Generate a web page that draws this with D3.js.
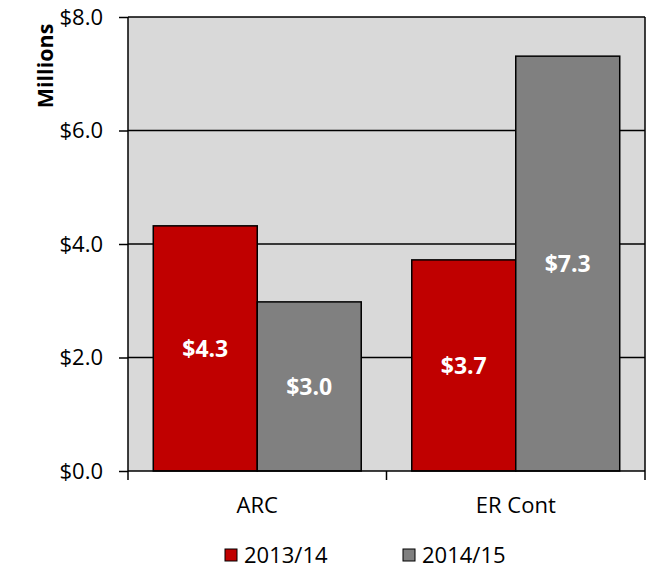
<!DOCTYPE html>
<html>
<head>
<meta charset="utf-8">
<script src="https://cdn.jsdelivr.net/npm/d3@7"></script>
<style>
  body { margin: 0; background: #fff; }
  text { font-family: "Open Sans", "Liberation Sans", sans-serif; }
</style>
</head>
<body>
<script>
// chart data
var categories = ["ARC", "ER Cont"];
var seriesNames = ["2013/14", "2014/15"];
var values2013 = [4.32, 3.72];
var values2014 = [2.98, 7.31];
var yTicks = [0, 2, 4, 6, 8];
var colors = ["#C00000", "#808080"];

var margin = {top: 17, right: 5, bottom: 100, left: 128},
    width = 650 - margin.left - margin.right,
    height = 571 - margin.top - margin.bottom;

var svg = d3.select("body").append("svg")
    .attr("width", 650)
    .attr("height", 571)
  .append("g")
    .attr("transform", "translate(" + margin.left + "," + margin.top + ")");

var x0 = d3.scaleBand().domain(categories).range([0, width]).padding(0);
var x1 = d3.scaleBand().domain(seriesNames).range([0, x0.bandwidth()])
    .paddingInner(0).paddingOuter(0.243);
var y = d3.scaleLinear().domain([0, 8]).range([height, 0]);

var data = categories.map(function(c, i) {
  return {cat: c, vals: [
    {s: seriesNames[0], v: values2013[i], c: colors[0]},
    {s: seriesNames[1], v: values2014[i], c: colors[1]}
  ]};
});

// plot background
svg.append("rect")
    .attr("width", width).attr("height", height)
    .attr("fill", "#D9D9D9");

// gridlines
svg.append("g").selectAll("line")
    .data(yTicks.slice(1))
  .enter().append("line")
    .attr("x1", 0).attr("x2", width)
    .attr("y1", function(d) { return y(d); })
    .attr("y2", function(d) { return y(d); })
    .attr("stroke", "#000").attr("stroke-width", 1.5);

// right border
svg.append("line")
    .attr("x1", width).attr("x2", width)
    .attr("y1", 0).attr("y2", height)
    .attr("stroke", "#000").attr("stroke-width", 1.5);

// bars
var groups = svg.selectAll(".grp")
    .data(data)
  .enter().append("g")
    .attr("transform", function(d) { return "translate(" + x0(d.cat) + ",0)"; });

groups.selectAll("rect")
    .data(function(d) { return d.vals; })
  .enter().append("rect")
    .attr("x", function(d) { return x1(d.s); })
    .attr("y", function(d) { return y(d.v); })
    .attr("width", x1.bandwidth())
    .attr("height", function(d) { return height - y(d.v); })
    .attr("fill", function(d) { return d.c; })
    .attr("stroke", "#000").attr("stroke-width", 1.5);

groups.selectAll("text")
    .data(function(d) { return d.vals; })
  .enter().append("text")
    .attr("x", function(d) { return x1(d.s) + x1.bandwidth() / 2; })
    .attr("y", function(d) { return (y(d.v) + height) / 2; })
    .attr("dy", "0.36em")
    .attr("text-anchor", "middle")
    .attr("fill", "#fff")
    .attr("font-weight", "bold")
    .attr("font-size", "23px")
    .text(function(d) { return "$" + d.v.toFixed(1); });

// y axis
var yAxis = svg.append("g")
    .call(d3.axisLeft(y).tickValues(yTicks).tickSize(9).tickPadding(16)
      .tickFormat(function(d) { return "$" + d3.format(".1f")(d); }));
yAxis.select(".domain").attr("stroke-width", 1.5).attr("d", "M0," + height + "V0");
yAxis.selectAll(".tick line").attr("stroke-width", 1.5);
yAxis.selectAll("text").attr("font-size", "22px").attr("fill", "#000");

// x axis
var xAxis = svg.append("g")
    .attr("transform", "translate(0," + height + ")")
    .call(d3.axisBottom(x0).tickSize(0).tickPadding(26));
xAxis.select(".domain").attr("stroke-width", 1.5).attr("d", "M0,0H" + width);
xAxis.selectAll("text").attr("font-size", "22px").attr("fill", "#000");
xAxis.selectAll(".sep")
    .data([0, x0.step(), width])
  .enter().append("line")
    .attr("x1", function(d) { return d; }).attr("x2", function(d) { return d; })
    .attr("y1", 0).attr("y2", 9)
    .attr("stroke", "#000").attr("stroke-width", 1.5);

// y title
svg.append("text")
    .attr("transform", "translate(-75,49) rotate(-90)")
    .attr("text-anchor", "middle")
    .attr("font-weight", "bold")
    .attr("font-size", "21.5px")
    .text("Millions");

// legend
var legendX = [97, 275];
var legend = svg.selectAll(".legend")
    .data(seriesNames)
  .enter().append("g")
    .attr("transform", function(d, i) { return "translate(" + legendX[i] + "," + (height + 78) + ")"; });
legend.append("rect")
    .attr("width", 12).attr("height", 12)
    .attr("fill", function(d, i) { return colors[i]; })
    .attr("stroke", "#000").attr("stroke-width", 1);
legend.append("text")
    .attr("x", 19).attr("y", 6).attr("dy", "0.36em")
    .attr("font-size", "22px")
    .text(function(d) { return d; });
</script>
</body>
</html>
